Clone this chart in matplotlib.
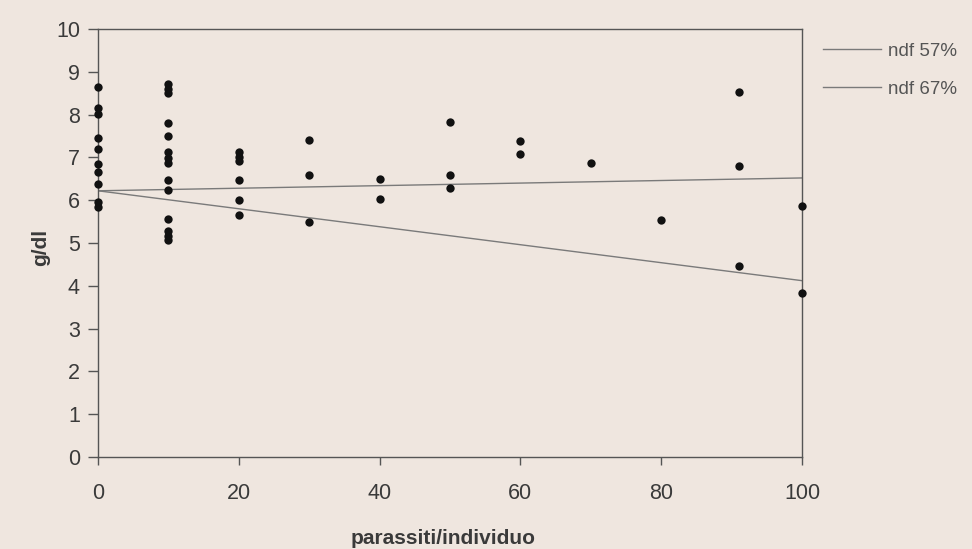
import matplotlib
matplotlib.use("Agg")
import matplotlib.pyplot as plt
from matplotlib.lines import Line2D

plt.rcParams["font.family"] = ["Liberation Sans", "DejaVu Sans"]

# parasite load groups (x) and haemoglobin readings (g/dl) for each group
parassiti = [0, 10, 20, 30, 40, 50, 60, 70, 80, 91, 100]
gdl_0 = [8.65, 8.15, 8.02, 7.46, 7.19, 6.84, 6.66, 6.37, 5.95, 5.84]
gdl_10 = [8.72, 8.6, 8.5, 7.8, 7.5, 7.12, 6.98, 6.86, 6.47, 6.25, 5.57, 5.27, 5.16, 5.08]
gdl_20 = [7.12, 7.02, 6.92, 6.48, 6.0, 5.65]
gdl_30 = [7.41, 6.58, 5.49]
gdl_40 = [6.5, 6.02]
gdl_50 = [7.83, 6.59, 6.28]
gdl_60 = [7.38, 7.07]
gdl_70 = [6.88]
gdl_80 = [5.54]
gdl_91 = [8.52, 6.79, 4.46]
gdl_100 = [5.86, 3.84]
groups = [gdl_0, gdl_10, gdl_20, gdl_30, gdl_40, gdl_50,
          gdl_60, gdl_70, gdl_80, gdl_91, gdl_100]

# fitted lines
line_x = [0, 100]
ndf57 = [6.22, 6.52]
ndf67 = [6.22, 4.12]

paper = "#EFE6DF"
ink = "#3a3a3a"
line_col = "#7a7a7a"

fig = plt.figure(figsize=(9.72, 5.49), dpi=100, facecolor=paper)
ax = fig.add_axes([98 / 972, 1 - 457 / 549, 704 / 972, 428 / 549], facecolor=paper)

for xv, ys in zip(parassiti, groups):
    ax.scatter([xv] * len(ys), ys, s=36, color="#111111", zorder=3,
               linewidths=0, clip_on=False)

ax.plot(line_x, ndf57, color=line_col, lw=1.0, zorder=2)
ax.plot(line_x, ndf67, color=line_col, lw=1.0, zorder=2)

ax.set_xlim(0, 100)
ax.set_ylim(0, 10)
ax.set_xticks(range(0, 101, 20))
ax.set_yticks(range(0, 11))
for sp in ax.spines.values():
    sp.set_color("#555555")
    sp.set_linewidth(1.0)
ax.tick_params(axis="both", direction="out", colors="#555555",
               labelcolor=ink, labelsize=15.5, width=1.0)
ax.tick_params(axis="x", length=6, pad=13)
ax.tick_params(axis="y", length=7, pad=6)

ax.set_xlabel("parassiti/individuo", fontsize=15, fontweight="bold", color=ink)
ax.set_ylabel("g/dl", fontsize=15, fontweight="bold", color=ink)
ax.xaxis.set_label_coords(0.49, -0.168)
ax.yaxis.set_label_coords(-0.068, 0.49)

handles = [Line2D([], [], color=line_col, lw=1.0),
           Line2D([], [], color=line_col, lw=1.0)]
leg = fig.legend(handles, ["ndf 57%", "ndf 67%"], loc="upper left",
                 bbox_to_anchor=(806 / 972, 1 - 26 / 549), frameon=False,
                 fontsize=13.5, handlelength=3.1, handletextpad=0.4,
                 labelspacing=1.1)
for t in leg.get_texts():
    t.set_color("#555555")

fig.savefig("out.png", dpi=100, facecolor=paper)
